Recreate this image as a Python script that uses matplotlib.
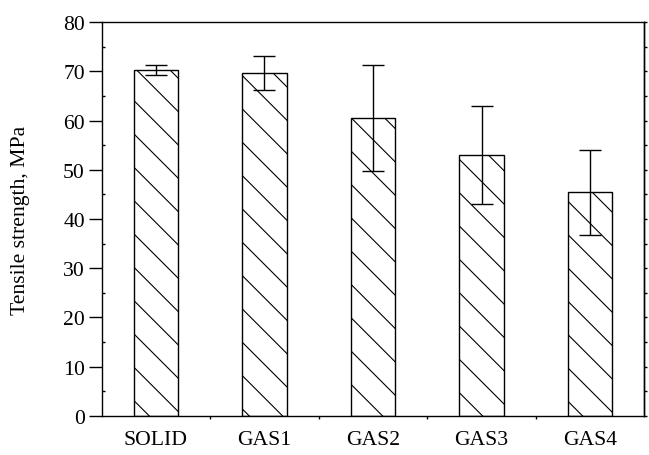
import numpy as np
import matplotlib
matplotlib.use('Agg')
import matplotlib.pyplot as plt
from matplotlib.ticker import MultipleLocator, FixedLocator

# Tensile strength of solid vs. gas-foamed samples
samples = ['SOLID', 'GAS1', 'GAS2', 'GAS3', 'GAS4']
strength = [70.3, 69.7, 60.5, 53.0, 45.4]
strength_err = [0.95, 3.4, 10.8, 10.0, 8.6]

# high dpi / small inches keeps the hatch spacing wide
DPI = 200
plt.rcParams['font.family'] = ['Liberation Serif', 'DejaVu Serif']
plt.rcParams['hatch.linewidth'] = 0.4
plt.rcParams['hatch.color'] = 'black'

fig = plt.figure(figsize=(649 / DPI, 456 / DPI), dpi=DPI)
ax = fig.add_axes([0.1567, 0.0862, 0.9928 - 0.1567, 0.949 - 0.0862])

x = np.arange(1, len(samples) + 1)
ax.bar(x, strength, width=0.41, facecolor='white', edgecolor='black',
       linewidth=0.5, hatch='\\\\', zorder=2)
ax.errorbar(x, strength, yerr=strength_err, fmt='none', ecolor='black',
            elinewidth=0.5, capsize=4.0, capthick=0.5, zorder=3)

ax.set_xlim(0.5, 5.5)
ax.set_ylim(0, 80)
ax.set_xticks(x)
ax.set_xticklabels(samples)
ax.xaxis.set_minor_locator(FixedLocator(x[:-1] + 0.5))
ax.yaxis.set_major_locator(MultipleLocator(10))
ax.yaxis.set_minor_locator(MultipleLocator(5))

ax.set_ylabel('Tensile strength, MPa', fontsize=7.8)
ax.yaxis.set_label_coords(-0.132, 0.5)

for s in ax.spines.values():
    s.set_linewidth(0.5)

ax.tick_params(axis='y', which='major', direction='out', length=4.6,
               width=0.5, labelsize=7.8, pad=1.5)
ax.tick_params(axis='y', which='minor', direction='in', length=1.0, width=0.5)
ax.tick_params(axis='x', which='major', length=0, labelsize=7.8, pad=5)
ax.tick_params(axis='x', which='minor', direction='out', length=1.0, width=0.5)

# short ticks along the right frame
right = ax.secondary_yaxis('right')
right.yaxis.set_major_locator(MultipleLocator(5))
right.tick_params(which='both', direction='out', length=1.0, width=0.5,
                  labelright=False)
right.spines['right'].set_linewidth(0.5)

plt.savefig('out.png', dpi=DPI)
